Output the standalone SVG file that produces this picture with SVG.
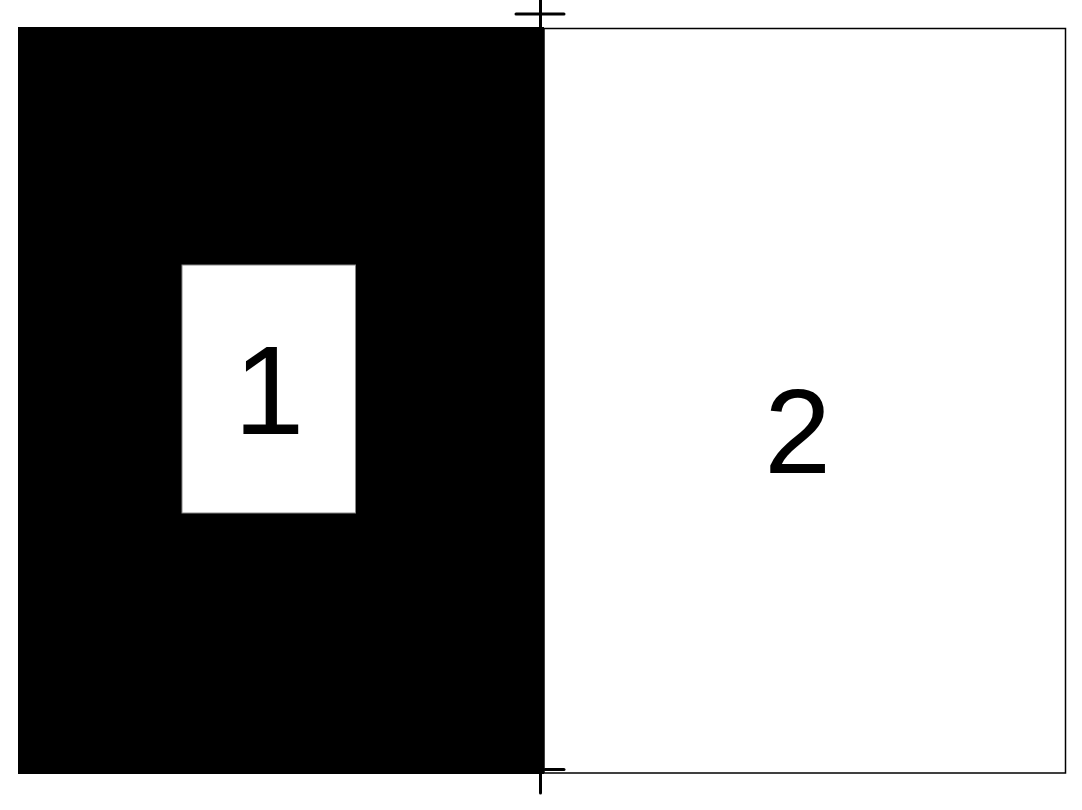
<svg xmlns="http://www.w3.org/2000/svg" width="1082" height="810" viewBox="0 0 1082 810">
<style>
.lbl{font-family:"Liberation Sans",Arial,sans-serif;fill:#000;text-anchor:middle}
.tick{stroke:#000;stroke-width:3;stroke-linecap:round;fill:none}
</style>
<rect width="1082" height="810" fill="#fff"/>
<g id="region2">
<rect x="544" y="28.5" width="521.5" height="744.5" fill="#fff" stroke="#000" stroke-width="1.5"/>
<text class="lbl" x="797.5" y="473" font-size="120">2</text>
</g>
<g id="region-black">
<rect x="18" y="27" width="526" height="747" fill="#000"/>
</g>
<g id="region1">
<rect x="182" y="265" width="173.5" height="248" fill="#fff" stroke="#888" stroke-width="1"/>
<text class="lbl" x="269" y="434" font-size="127">1</text>
</g>
<g id="ticks">
<line class="tick" x1="516" y1="14" x2="564" y2="14"/>
<line class="tick" x1="540.5" y1="0" x2="540.5" y2="27"/>
<line class="tick" x1="545" y1="769.5" x2="564" y2="769.5"/>
<line class="tick" x1="540.5" y1="774" x2="540.5" y2="793"/>
</g>
</svg>
